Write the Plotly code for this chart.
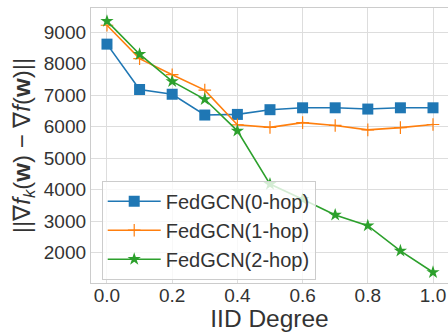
import plotly.graph_objects as go

iid = [0.0, 0.1, 0.2, 0.3, 0.4, 0.5, 0.6, 0.7, 0.8, 0.9, 1.0]
hop0 = [8620, 7180, 7030, 6370, 6390, 6540, 6600, 6600, 6560, 6600, 6600]
hop1 = [9220, 8160, 7650, 7160, 6060, 5980, 6130, 6040, 5900, 5970, 6070]
hop2 = [9350, 8300, 7440, 6870, 5870, 4180, 3700, 3200, 2860, 2060, 1380]
names = ["FedGCN(0-hop)", "FedGCN(1-hop)", "FedGCN(2-hop)"]
x_ticks = [0.0, 0.2, 0.4, 0.6, 0.8, 1.0]
y_ticks = [2000, 3000, 4000, 5000, 6000, 7000, 8000, 9000]

FONT = "Liberation Sans, Arial, sans-serif"
fig = go.Figure()
fig.add_trace(go.Scatter(x=iid, y=hop0, name=names[0], mode="lines+markers",
                         line=dict(color="#1f77b4", width=1.6),
                         marker=dict(symbol="square", size=11, color="#1f77b4")))
fig.add_trace(go.Scatter(x=iid, y=hop1, name=names[1], mode="lines+markers",
                         line=dict(color="#ff7f0e", width=1.6),
                         marker=dict(symbol="cross-thin", size=9,
                                     line=dict(color="#ff7f0e", width=1.2))))
fig.add_trace(go.Scatter(x=iid, y=hop2, name=names[2], mode="lines+markers",
                         line=dict(color="#2ca02c", width=1.6),
                         marker=dict(symbol="star", size=10, color="#2ca02c")))

axis_common = dict(showgrid=True, gridcolor="#dddddd", gridwidth=1,
                   showline=True, linecolor="#cccccc", linewidth=1.3, mirror=True,
                   zeroline=False, ticks="", tickfont=dict(size=19, color="#333333", family=FONT))
fig.update_xaxes(range=[-0.049, 1.046], tickvals=x_ticks,
                 ticktext=[f"{v:.1f}" for v in x_ticks], ticklabelstandoff=-5,
                 title=dict(text="IID Degree", font=dict(size=24.5, color="#333333", family=FONT), standoff=6),
                 **axis_common)
fig.update_yaxes(range=[1040, 9767], tickvals=y_ticks,
                 title=dict(text="||∇<i>f</i><sub><i>k</i></sub>(<b>w</b>) − ∇<i>f</i>(<b>w</b>)||",
                            font=dict(size=24, color="#333333", family=FONT), standoff=6),
                 **axis_common)
fig.update_layout(
    width=448, height=332,
    margin=dict(l=91, r=0, t=8, b=49),
    plot_bgcolor="white", paper_bgcolor="white",
    font=dict(family=FONT, color="#333333"),
    legend=dict(x=0.03, y=0.012, xanchor="left", yanchor="bottom",
                bgcolor="rgba(255,255,255,0.8)", bordercolor="#cccccc", borderwidth=1,
                font=dict(size=20, color="#333333", family=FONT),
                itemwidth=53, tracegroupgap=0),
)
fig.write_html("out.html")
